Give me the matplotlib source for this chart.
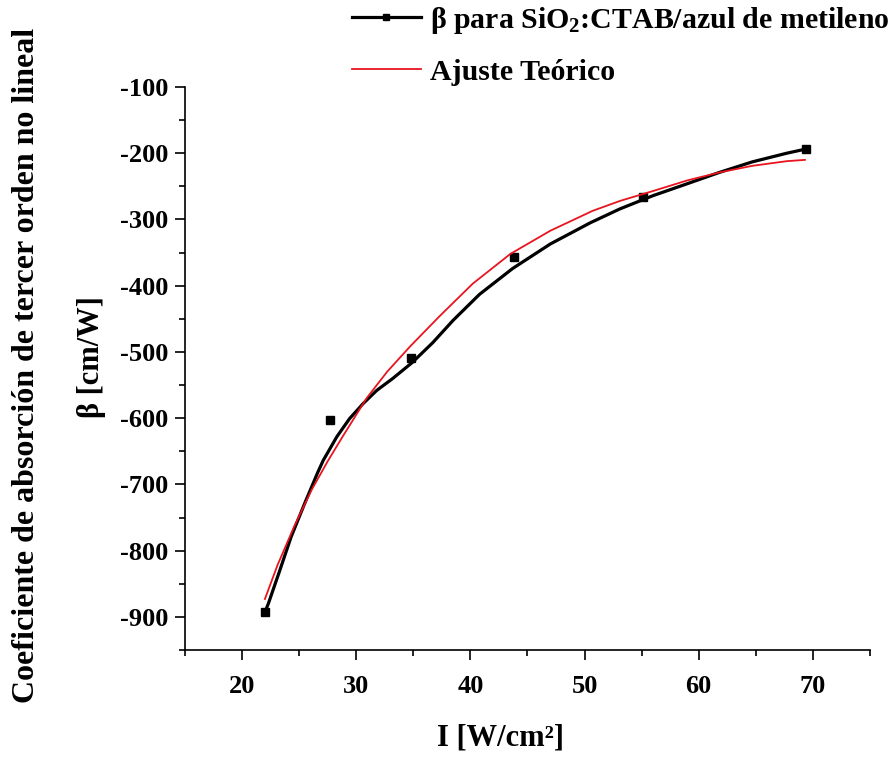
import matplotlib
matplotlib.use("Agg")
import matplotlib.pyplot as plt
from matplotlib.lines import Line2D
from matplotlib.ticker import MultipleLocator

plt.rcParams["font.family"] = ["Liberation Serif", "DejaVu Serif"]
plt.rcParams["font.weight"] = "bold"
plt.rcParams["mathtext.fontset"] = "custom"
plt.rcParams["mathtext.rm"] = "Liberation Serif:bold"

# measured points
I_data = [22.0, 27.7, 34.8, 43.8, 55.1, 69.4]
beta_data = [-892, -603, -509, -357, -266, -194]

# smooth black curve
I_curve = [22.0, 22.3, 23.3, 24.3, 25.5, 26.6, 27.1, 28.3, 29.4, 30.6,
           31.8, 33.2, 34.9, 36.7, 38.5, 40.8, 43.7, 47.0, 50.5, 53.1,
           56.0, 59.0, 61.8, 64.7, 67.7, 69.3]
beta_curve = [-893, -880, -830, -779, -728, -683, -664, -628, -601, -578,
              -558, -540, -516, -486, -452, -413, -374, -337, -305, -284,
              -264, -246, -229, -213, -200, -194]

# theoretical fit (red)
I_fit = [22.0, 23.1, 24.6, 26.1, 27.5, 28.8, 30.9, 32.7, 34.7, 37.3,
         40.2, 43.5, 47.0, 50.7, 53.1, 56.0, 59.0, 61.8, 64.7, 67.7, 69.3]
beta_fit = [-873, -822, -762, -708, -665, -628, -570, -530, -492, -446,
            -397, -352, -317, -287, -272, -257, -241, -229, -219, -212, -210]

fig = plt.figure(figsize=(8.95, 7.59), dpi=100)
ax = fig.add_axes([185 / 895, 109 / 759, 685 / 895, 563 / 759])

ax.plot(I_curve, beta_curve, color="black", lw=2.3)
ax.plot(I_data, beta_data, ls="none", marker="s", ms=6, color="black")
ax.plot(I_fit, beta_fit, color="#e8141e", lw=1.3)

ax.set_xlim(15, 75)
ax.set_ylim(-950, -100)
ax.xaxis.set_minor_locator(MultipleLocator(5))
ax.yaxis.set_minor_locator(MultipleLocator(50))
ax.set_xticks([20, 30, 40, 50, 60, 70])
ax.set_yticks(list(range(-900, 0, 100)))
ax.set_yticklabels([f"-{abs(v)}" for v in range(-900, 0, 100)])

for s in ["top", "right"]:
    ax.spines[s].set_visible(False)
for s in ["left", "bottom"]:
    ax.spines[s].set_linewidth(1.2)

ax.tick_params(which="major", direction="out", length=7, width=1.2, labelsize=19)
ax.tick_params(which="minor", direction="out", length=4.5, width=1.2)
ax.tick_params(axis="x", which="major", pad=11)
ax.tick_params(axis="y", which="major", pad=5)

fig.text(501 / 895, 1 - 738 / 759, "I [W/cm²]", ha="center", va="center", fontsize=22)
fig.text(27 / 895, 1 - 365 / 759, "Coeficiente de absorción de tercer orden no lineal",
         rotation=90, ha="center", va="center", fontsize=23)
fig.text(92 / 895, 1 - 357 / 759, "β [cm/W]", rotation=90, ha="center", va="center",
         fontsize=22)

handles = [Line2D([], [], color="black", lw=2.3, marker="s", ms=5),
           Line2D([], [], color="#e8141e", lw=1.3)]
labels = [r"β para SiO$\mathregular{_2}$:CTAB/azul de metileno", "Ajuste Teórico"]
fig.legend(handles, labels, loc="upper left", bbox_to_anchor=(325 / 895, 1.029),
           frameon=False, fontsize=21.5, handlelength=2.3, handletextpad=0.33,
           labelspacing=0.77, numpoints=1)

fig.savefig("out.png", dpi=100)
